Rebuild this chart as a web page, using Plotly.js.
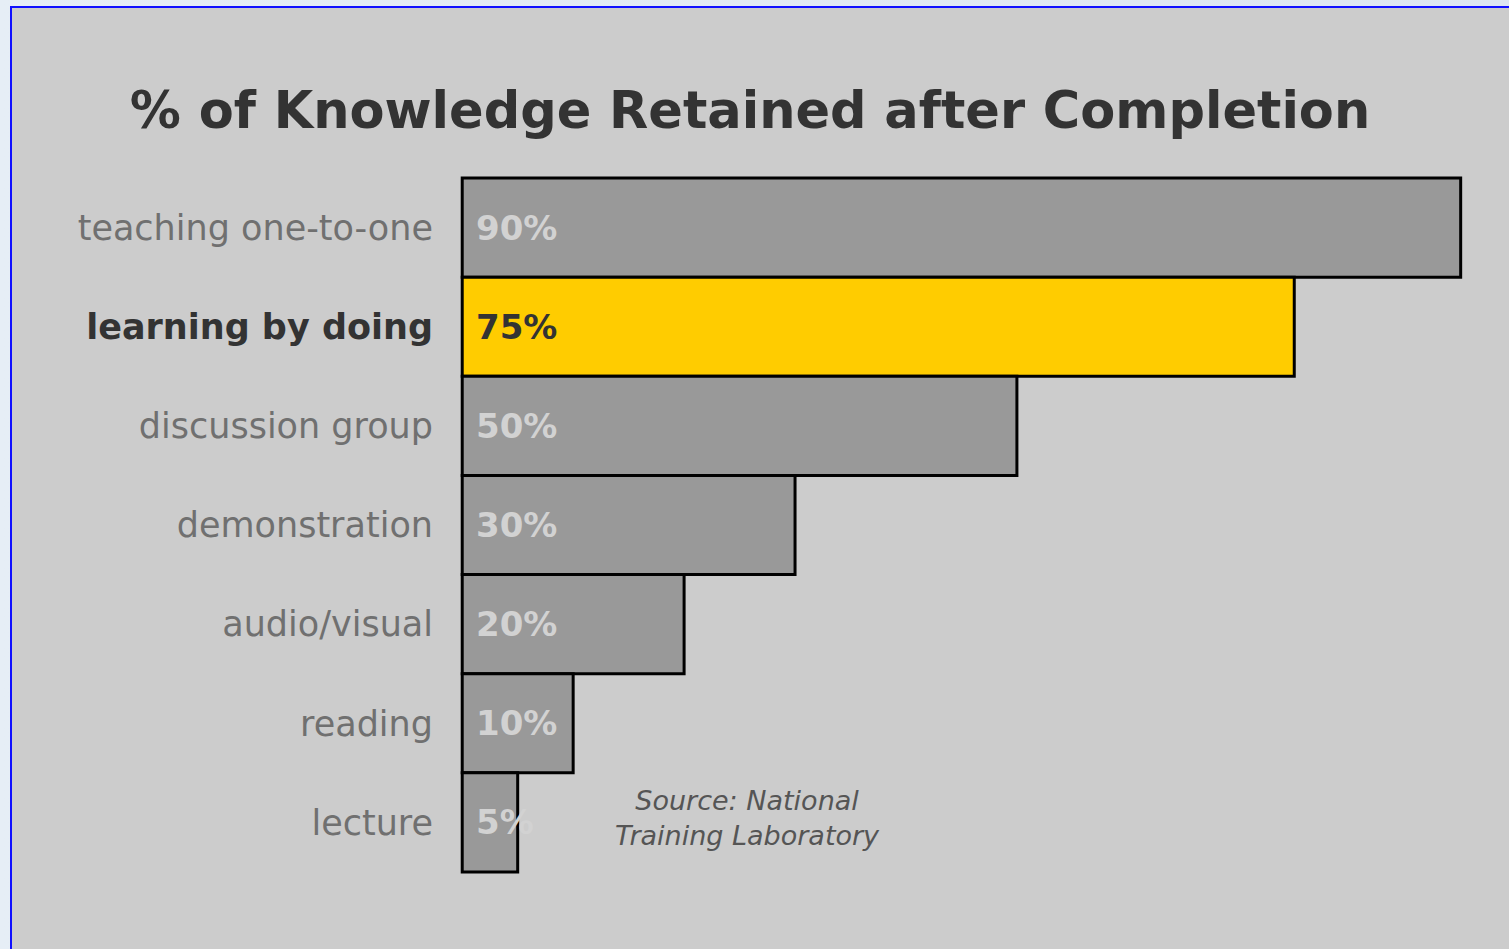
<!DOCTYPE html>
<html>
<head>
<meta charset="utf-8">
<script src="https://cdn.plot.ly/plotly-3.0.1.min.js"></script>
<style>
  html, body { margin:0; padding:0; width:1509px; height:949px; overflow:hidden; background:linear-gradient(90deg,#e6eef6,#dde6f2); }
  #frame { position:absolute; left:10px; top:6px; width:1497px; height:941px; border-left:2px solid #1010ff; border-top:2px solid #1010ff; background:#cccccc; }
  #chart { width:1497px; height:941px; }
</style>
</head>
<body>
<div id="frame"><div id="chart"></div></div>
<script>
// ---- data ----
const categories = ["teaching one-to-one","learning by doing","discussion group","demonstration","audio/visual","reading","lecture"];
const retained = [90, 75, 50, 30, 20, 10, 5];
const valueLabels = ["90%","75%","50%","30%","20%","10%","5%"];
const highlightIndex = 1;
const chartTitle = "% of Knowledge Retained after Completion";
const sourceText = "<i>Source: National<br>Training Laboratory</i>";

const FONT = "'DejaVu Sans', Lato, sans-serif";
const barColors = categories.map((c,i)=> i===highlightIndex ? "#ffcc00" : "#999999");
const valueColors = categories.map((c,i)=> i===highlightIndex ? "#333333" : "#d2d2d2");
const tickText = categories.map((c,i)=> i===highlightIndex ? "<b><span style='color:#333333'>"+c+"</span></b>" : c);

const trace = {
  type: "bar",
  orientation: "h",
  y: categories,
  x: retained,
  marker: { color: barColors, line: { color: "#000000", width: 3 } },
  hoverinfo: "skip"
};

const annotations = categories.map((c,i)=>({
  x: 0, y: c, xref: "x", yref: "y",
  text: "<b>"+valueLabels[i]+"</b>",
  showarrow: false, xanchor: "left", yanchor: "middle", xshift: 12,
  font: { family: FONT, size: 34, color: valueColors[i] }
}));
annotations.push({
  x: 25.7, y: categories[6], xref: "x", yref: "y",
  text: sourceText, showarrow: false, xanchor: "center", yanchor: "middle", yshift: 4,
  font: { family: FONT, size: 27, color: "#555555" }
});

const layout = {
  width: 1497, height: 941,
  paper_bgcolor: "rgba(0,0,0,0)",
  plot_bgcolor: "rgba(0,0,0,0)",
  margin: { l: 448, r: 45, t: 168, b: 75 },
  bargap: 0,
  showlegend: false,
  title: {
    text: "<b>"+chartTitle+"</b>",
    xref: "container", yref: "container", x: 0.493, y: 0.8916,
    xanchor: "center", yanchor: "middle",
    font: { family: FONT, size: 51, color: "#333333" }
  },
  xaxis: { range: [-0.2, 90.3], visible: false, fixedrange: true },
  yaxis: {
    type: "category",
    range: [6.52, -0.52],
    tickmode: "array", tickvals: categories, ticktext: tickText,
    showgrid: false, zeroline: false, showline: false, ticks: "",
    ticklabelstandoff: 26,
    tickfont: { family: FONT, size: 35, color: "#707070" },
    fixedrange: true
  },
  annotations: annotations
};

Plotly.newPlot("chart", [trace], layout, { displayModeBar: false, staticPlot: true });
</script>
</body>
</html>
